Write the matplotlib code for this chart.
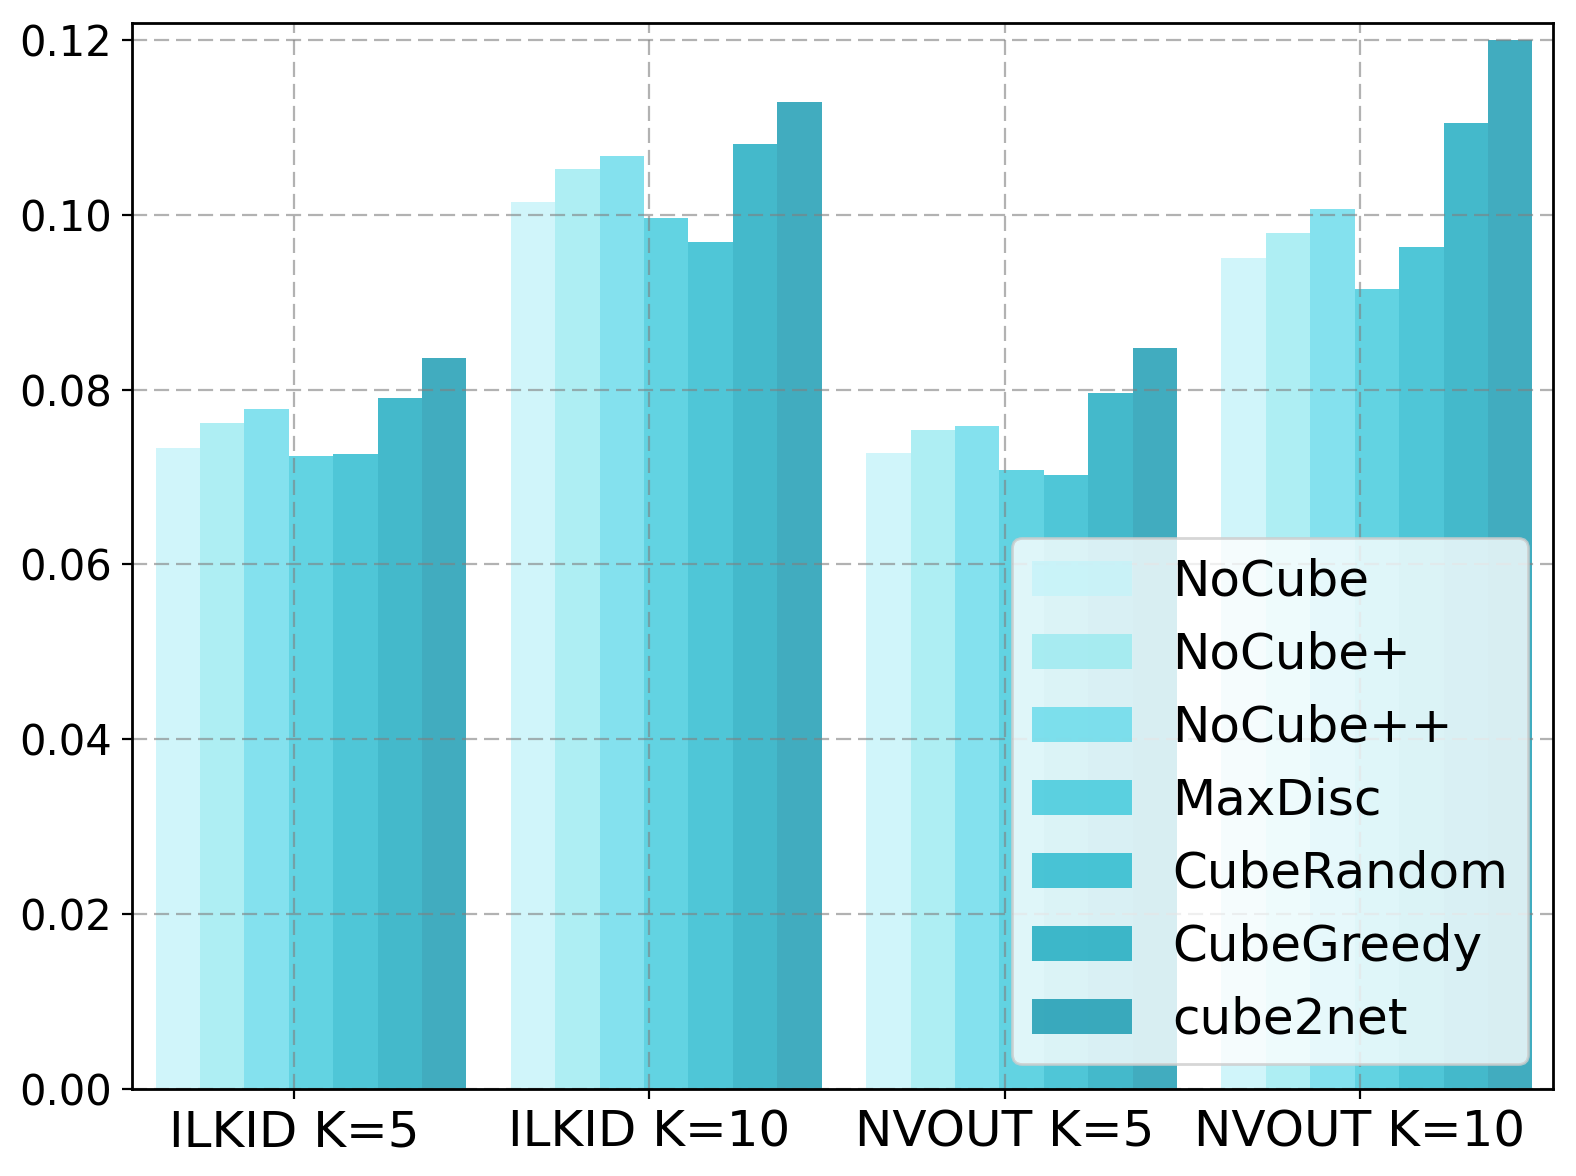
import matplotlib
matplotlib.use("Agg")
import matplotlib.pyplot as plt
import numpy as np

groups = ["ILKID K=5", "ILKID K=10", "NVOUT K=5", "NVOUT K=10"]
methods = ["NoCube", "NoCube+", "NoCube++", "MaxDisc", "CubeRandom", "CubeGreedy", "cube2net"]

nocube = [0.0733, 0.1015, 0.0727, 0.0951]
nocube_p = [0.0762, 0.1052, 0.0754, 0.0979]
nocube_pp = [0.0778, 0.1067, 0.0759, 0.1007]
maxdisc = [0.0724, 0.0997, 0.0708, 0.0915]
cube_random = [0.0726, 0.0969, 0.0702, 0.0963]
cube_greedy = [0.0791, 0.1081, 0.0796, 0.1105]
cube2net = [0.0836, 0.1129, 0.0848, 0.1200]
series = [nocube, nocube_p, nocube_pp, maxdisc, cube_random, cube_greedy, cube2net]

colors = ["#C5F3F9", "#9AEAF0", "#65DAEA", "#3BC8DB", "#23B8CD", "#15A8BE", "#1197AF"]

fig = plt.figure(figsize=(7.88, 5.88), dpi=200)
ax = fig.add_axes([131.7 / 1576, 1 - 1088.7 / 1176, (1553 - 131.7) / 1576, (1088.7 - 22.7) / 1176])

x = np.arange(len(groups))
width = 0.125
for i, (vals, name) in enumerate(zip(series, methods)):
    ax.bar(x + (i - 3) * width + 0.0475, vals, width, color=colors[i], alpha=0.8, label=name)

ax.set_xticks(x)
ax.set_xticklabels(groups, fontsize=18)
ax.tick_params(axis="y", labelsize=15)
ax.set_yticks(np.arange(0, 0.121, 0.02))
ax.set_yticklabels(["%.2f" % v for v in np.arange(0, 0.121, 0.02)])
ax.set_xlim(-0.457, 3.543)
ax.set_ylim(0, 0.122)
ax.grid(True, color="gray", alpha=0.6, linewidth=0.8, linestyle=(0, (6.8, 3.1)))
for s in ax.spines.values():
    s.set_linewidth(1.0)

ax.legend(loc="lower right", fontsize=18)

fig.savefig("out.png", dpi=200)
